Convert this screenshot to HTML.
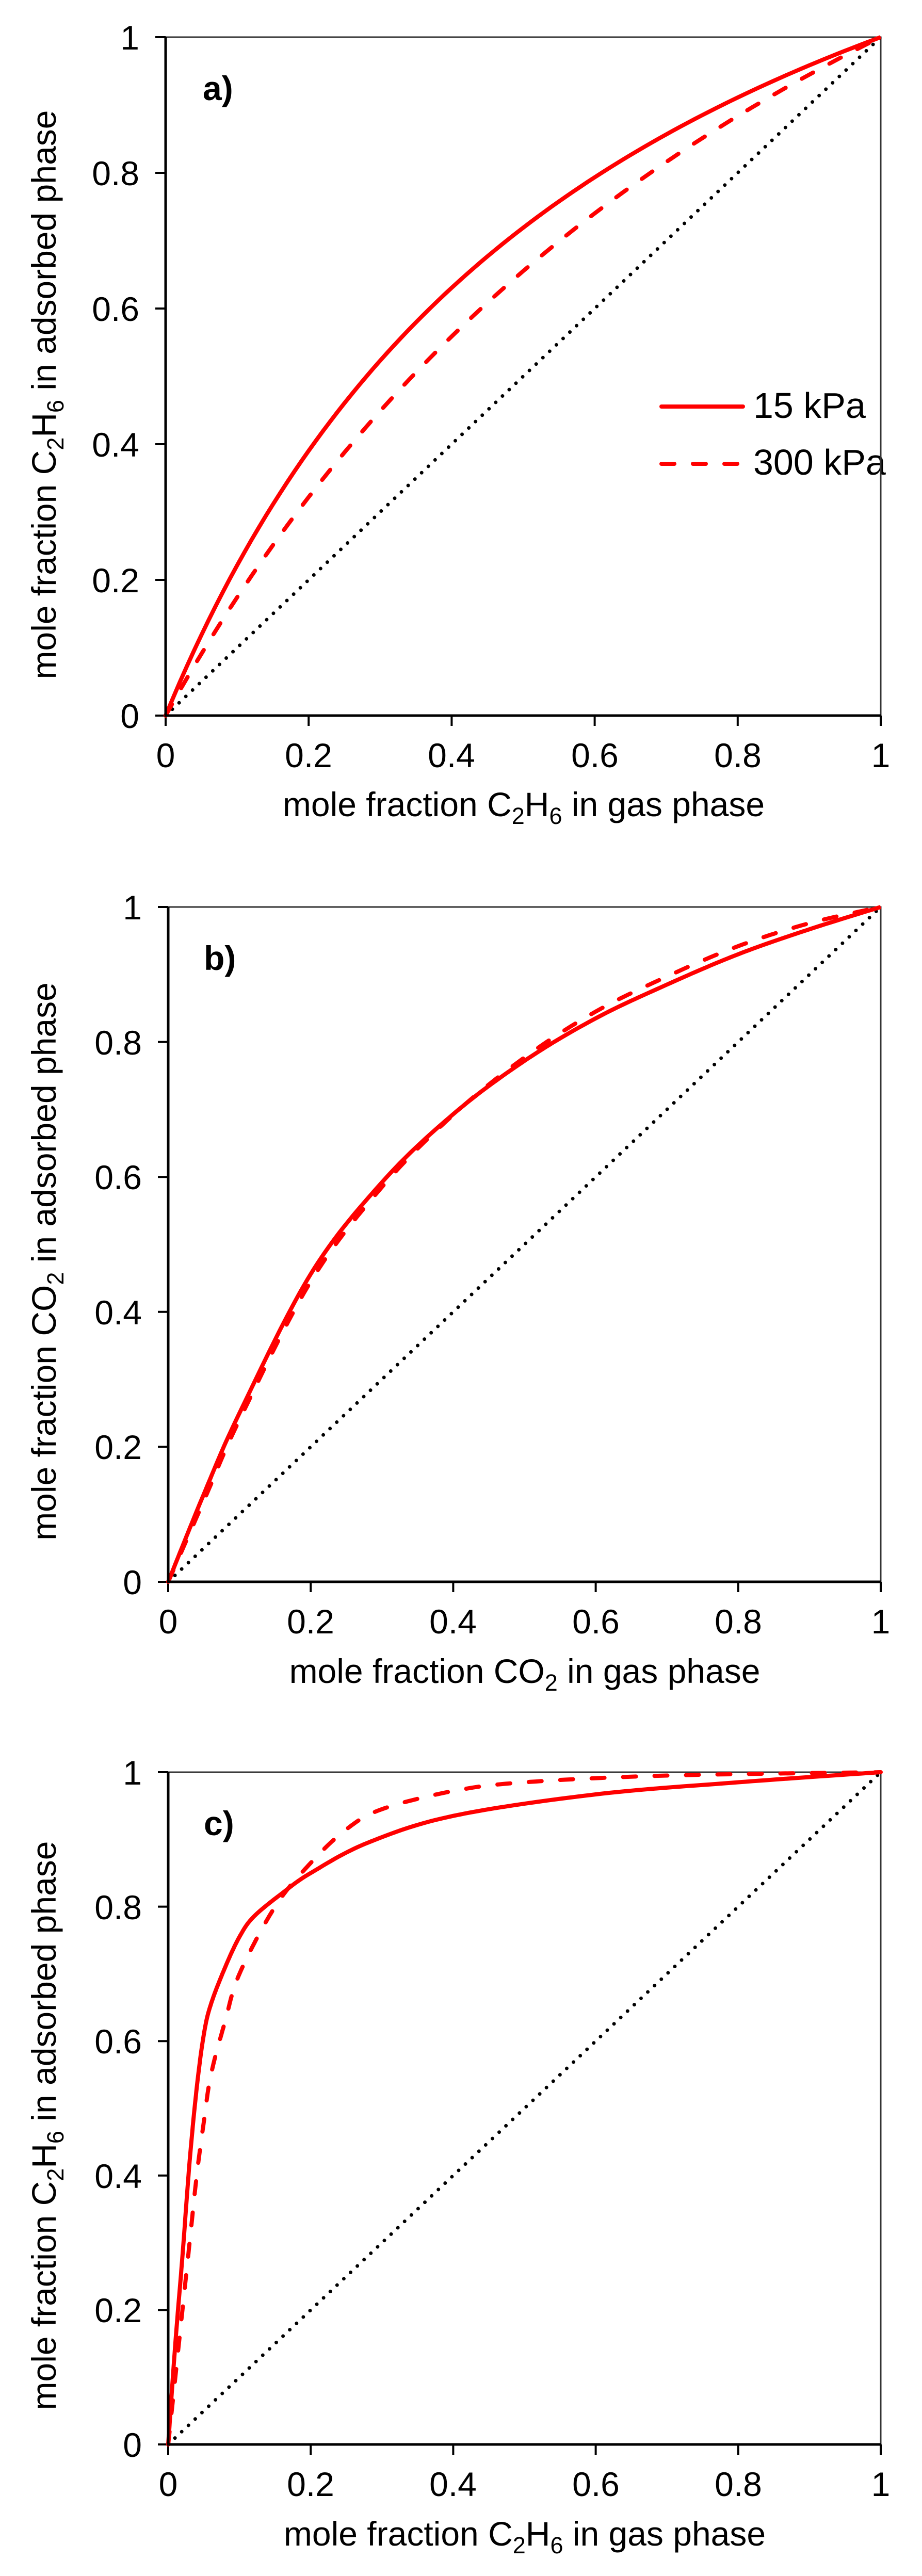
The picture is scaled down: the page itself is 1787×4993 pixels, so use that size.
<!DOCTYPE html>
<html><head><meta charset="utf-8">
<style>
html,body{margin:0;padding:0;background:#fff;}
svg{display:block;}
text{font-family:"Liberation Sans",Arial,sans-serif;fill:#000;}
.t{font-size:66px;}
.ti{font-size:66px;}
.lb{font-size:66px;font-weight:bold;}
</style></head>
<body>
<svg id="s" width="1787" height="4993" viewBox="0 0 1787 4993" xmlns="http://www.w3.org/2000/svg">
<rect width="1787" height="4993" fill="#fff"/>

<!-- Panel a -->
<g id="pa">
<text class="t" x="270" y="96" text-anchor="end">1</text>
<text class="t" x="270" y="359" text-anchor="end">0.8</text>
<text class="t" x="270" y="622" text-anchor="end">0.6</text>
<text class="t" x="270" y="885" text-anchor="end">0.4</text>
<text class="t" x="270" y="1148" text-anchor="end">0.2</text>
<text class="t" x="270" y="1411" text-anchor="end">0</text>
<text class="t" x="321" y="1487" text-anchor="middle">0</text>
<text class="t" x="598" y="1487" text-anchor="middle">0.2</text>
<text class="t" x="875" y="1487" text-anchor="middle">0.4</text>
<text class="t" x="1153" y="1487" text-anchor="middle">0.6</text>
<text class="t" x="1430" y="1487" text-anchor="middle">0.8</text>
<text class="t" x="1707" y="1487" text-anchor="middle">1</text>
<text class="ti" x="1015" y="1582" text-anchor="middle">mole  fraction C<tspan font-size="45" dy="15">2</tspan><tspan dy="-15">H</tspan><tspan font-size="45" dy="15">6</tspan><tspan dy="-15"> in gas phase</tspan></text>
<text class="ti" transform="translate(108,765) rotate(-90)" text-anchor="middle">mole fraction C<tspan font-size="45" dy="15">2</tspan><tspan dy="-15">H</tspan><tspan font-size="45" dy="15">6</tspan><tspan dy="-15"> in adsorbed phase</tspan></text>
<text class="lb" x="393" y="194">a)</text>
<line x1="1282" y1="788" x2="1440" y2="788" stroke="#ff0000" stroke-width="8" stroke-linecap="round"/>
<line x1="1282" y1="899" x2="1440" y2="899" stroke="#ff0000" stroke-width="8" stroke-linecap="round" stroke-dasharray="25 36"/>
<text style="font-size:70px" x="1460" y="810">15 kPa</text>
<text style="font-size:70px" x="1460" y="920">300 kPa</text>
</g>

<!-- Panel b -->
<g>
<text class="t" x="275" y="1782" text-anchor="end">1</text>
<text class="t" x="275" y="2044" text-anchor="end">0.8</text>
<text class="t" x="275" y="2305" text-anchor="end">0.6</text>
<text class="t" x="275" y="2567" text-anchor="end">0.4</text>
<text class="t" x="275" y="2828" text-anchor="end">0.2</text>
<text class="t" x="275" y="3090" text-anchor="end">0</text>
<text class="t" x="326" y="3166" text-anchor="middle">0</text>
<text class="t" x="602" y="3166" text-anchor="middle">0.2</text>
<text class="t" x="878" y="3166" text-anchor="middle">0.4</text>
<text class="t" x="1155" y="3166" text-anchor="middle">0.6</text>
<text class="t" x="1431" y="3166" text-anchor="middle">0.8</text>
<text class="t" x="1707" y="3166" text-anchor="middle">1</text>
<text class="ti" x="1017" y="3262" text-anchor="middle">mole  fraction CO<tspan font-size="45" dy="15">2</tspan><tspan dy="-15"> in gas phase</tspan></text>
<text class="ti" transform="translate(108,2445) rotate(-90)" text-anchor="middle">mole fraction CO<tspan font-size="45" dy="15">2</tspan><tspan dy="-15"> in adsorbed phase</tspan></text>
<text class="lb" x="395" y="1880">b)</text>
</g>

<!-- Panel c -->
<g>
<text class="t" x="275" y="3459" text-anchor="end">1</text>
<text class="t" x="275" y="3720" text-anchor="end">0.8</text>
<text class="t" x="275" y="3980" text-anchor="end">0.6</text>
<text class="t" x="275" y="4241" text-anchor="end">0.4</text>
<text class="t" x="275" y="4501" text-anchor="end">0.2</text>
<text class="t" x="275" y="4762" text-anchor="end">0</text>
<text class="t" x="326" y="4838" text-anchor="middle">0</text>
<text class="t" x="602" y="4838" text-anchor="middle">0.2</text>
<text class="t" x="878" y="4838" text-anchor="middle">0.4</text>
<text class="t" x="1155" y="4838" text-anchor="middle">0.6</text>
<text class="t" x="1431" y="4838" text-anchor="middle">0.8</text>
<text class="t" x="1707" y="4838" text-anchor="middle">1</text>
<text class="ti" x="1017" y="4934" text-anchor="middle">mole  fraction C<tspan font-size="45" dy="15">2</tspan><tspan dy="-15">H</tspan><tspan font-size="45" dy="15">6</tspan><tspan dy="-15"> in gas phase</tspan></text>
<text class="ti" transform="translate(108,4120) rotate(-90)" text-anchor="middle">mole fraction C<tspan font-size="45" dy="15">2</tspan><tspan dy="-15">H</tspan><tspan font-size="45" dy="15">6</tspan><tspan dy="-15"> in adsorbed phase</tspan></text>
<text class="lb" x="395" y="3557">c)</text>
</g>
<g id="plots"></g>
</svg>
<script>
(function(){
var NS="http://www.w3.org/2000/svg",G=document.getElementById("plots");
function el(t,a){var e=document.createElementNS(NS,t);for(var k in a)e.setAttribute(k,a[k]);G.appendChild(e);return e;}
function sf(a){var p=[];for(var i=0;i<=100;i++){var x=i/100;p.push([x,a*x/(1+(a-1)*x)]);}return p;}
function interp(pts){var o=[];for(var i=0;i<pts.length-1;i++){var p0=pts[Math.max(0,i-1)],p1=pts[i],p2=pts[i+1],p3=pts[Math.min(pts.length-1,i+2)];for(var t=0;t<1;t+=0.05){var t2=t*t,t3=t2*t;var f=function(k){return 0.5*((2*p1[k])+(-p0[k]+p2[k])*t+(2*p0[k]-5*p1[k]+4*p2[k]-p3[k])*t2+(-p0[k]+3*p1[k]-3*p2[k]+p3[k])*t3);};o.push([f(0),f(1)]);}}o.push(pts[pts.length-1]);return o;}
function panel(L,R,T,B,solid,dash){
 var W=R-L,H=B-T;function X(x){return L+x*W;}function Y(y){return B-y*H;}
 function path(p){return p.map(function(q,i){return (i?"L":"M")+X(q[0]).toFixed(1)+" "+Y(Math.min(1,q[1])).toFixed(1);}).join(" ");}
 // frame top/right
 el("path",{d:"M"+L+" "+T+" H"+R+" V"+B,fill:"none",stroke:"#333",'stroke-width':3});
 // ticks
 for(var i=0;i<=5;i++){var y=T+i*H/5;el("line",{x1:L-20,y1:y,x2:L,y2:y,stroke:"#000",'stroke-width':4});
  var x=L+i*W/5;el("line",{x1:x,y1:B,x2:x,y2:B+20,stroke:"#000",'stroke-width':4});}
 // diagonal dotted
 el("line",{x1:X(0),y1:Y(0),x2:X(1),y2:Y(1),stroke:"#000",'stroke-width':7,'stroke-linecap':"round",'stroke-dasharray':"0 18"});
 el("path",{d:path(dash),fill:"none",stroke:"#ff0000",'stroke-width':8,'stroke-linecap':"round",'stroke-linejoin':"round",'stroke-dasharray':"25 36"});
 el("path",{d:path(solid),fill:"none",stroke:"#ff0000",'stroke-width':8,'stroke-linejoin':"round"});
 // axes
 el("line",{x1:L,y1:T,x2:L,y2:B+2,stroke:"#000",'stroke-width':5});
 el("line",{x1:L-2,y1:B,x2:R,y2:B,stroke:"#000",'stroke-width':5});
}
panel(321,1707,72,1387,sf(2.56),sf(1.9));
panel(326,1707,1758,3066,
 interp([[0,0],[0.05,0.13],[0.1,0.25],[0.2,0.456],[0.3,0.592],[0.4,0.693],[0.5,0.772],[0.6,0.835],[0.7,0.885],[0.8,0.93],[0.9,0.967],[1,1]]),
 interp([[0,0],[0.05,0.12],[0.1,0.24],[0.2,0.445],[0.3,0.585],[0.4,0.692],[0.5,0.777],[0.6,0.845],[0.7,0.897],[0.8,0.942],[0.9,0.976],[1,1]]));
panel(326,1707,3435,4738,
 interp([[0,0],[0.01,0.15],[0.02,0.28],[0.03,0.42],[0.04,0.53],[0.05,0.61],[0.06,0.655],[0.08,0.71],[0.1,0.755],[0.12,0.785],[0.16,0.82],[0.2,0.85],[0.28,0.895],[0.4,0.935],[0.6,0.967],[0.8,0.985],[1,1]]),
 interp([[0,0],[0.01,0.1],[0.02,0.2],[0.03,0.3],[0.04,0.4],[0.05,0.48],[0.06,0.55],[0.08,0.63],[0.1,0.7],[0.15,0.8],[0.2,0.865],[0.25,0.915],[0.3,0.945],[0.4,0.972],[0.5,0.985],[0.7,0.995],[1,1]]));
})();
</script>
</body></html>
